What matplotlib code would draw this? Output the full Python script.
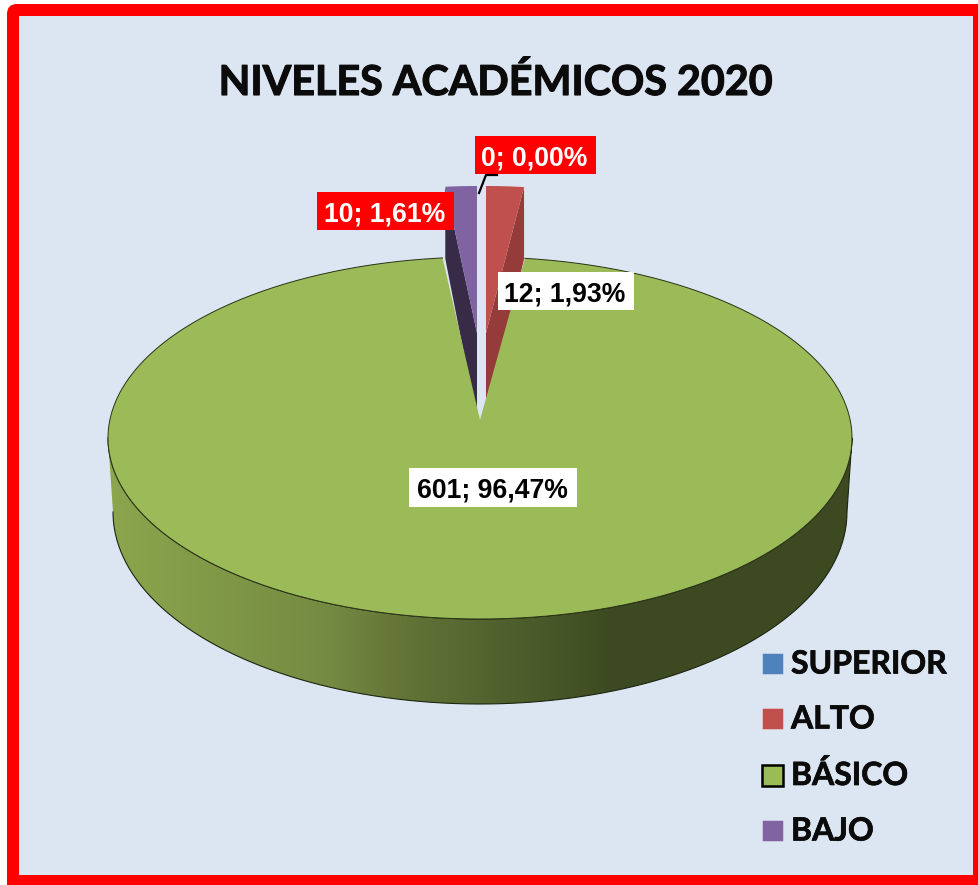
import numpy as np
import matplotlib
matplotlib.use("Agg")
import matplotlib.pyplot as plt
import matplotlib.patheffects as pe
from matplotlib.colors import LinearSegmentedColormap
from matplotlib.patches import FancyBboxPatch, Polygon, Rectangle

# chart data
categories = ["SUPERIOR", "ALTO", "BÁSICO", "BAJO"]
counts = [0, 12, 601, 10]
percent_labels = ["0,00%", "1,93%", "96,47%", "1,61%"]
colors = ["#4f81bd", "#c0504d", "#9bbb59", "#8064a2"]

W, H = 979, 885
BG = "#dce6f2"


def arc(cx, cy, rx, ry, a0, a1, n=200):
    # angles in degrees, clockwise from 12 o'clock, like a pie
    t = np.radians(np.linspace(a0, a1, n))
    return np.column_stack([cx + rx * np.sin(t), cy - ry * np.cos(t)])


fig = plt.figure(figsize=(W / 100, H / 100), dpi=100, facecolor="white")
ax = fig.add_axes([0, 0, 1, 1])
ax.set_xlim(0, W)
ax.set_ylim(H, 0)
ax.axis("off")

# red frame (rounded corner shows at top left) and panel
ax.add_patch(FancyBboxPatch((15, 12), 1000, 900, boxstyle="round,pad=8,rounding_size=10",
                            facecolor="#ff0000", edgecolor="none", zorder=0))
ax.add_patch(Rectangle((19, 16), 954, 859, facecolor=BG, edgecolor="none", zorder=0.5))

# slice angles from the values
total = sum(counts)
edges = np.cumsum([0] + counts) / total * 360
alto = (edges[1], edges[2])
basico = (edges[2], edges[3])
bajo = (edges[3], edges[4])


def exploded(a0, a1, px, outer, light, dark):
    # small exploded slice: dark side runs down behind the green top
    r_x, r_y, depth, top_y = 315, 147, 72, 333
    rim = arc(px, top_y, r_x, r_y, a0, a1, 20)
    tip = [px, top_y]
    side = np.array([tip, rim[outer], rim[outer] + [0, depth], [px, 420]])
    ax.add_patch(Polygon(side, closed=True, facecolor=dark, edgecolor="none", zorder=1))
    ax.add_patch(Polygon(np.vstack([[tip], rim]), closed=True, facecolor=light, edgecolor="none", zorder=6))


exploded(alto[0], alto[1], 486, -1, colors[1], "#953c3a")
exploded(bajo[0], bajo[1], 477, 0, colors[3], "#372b48")

# green slice: side wall first, then the top
cx, cy, rx, ry = 480, 438, 372, 181
bx, by, brx, bry = 480, 512, 367, 192
wall = np.vstack([arc(cx, cy, rx, ry, 270, 90), arc(bx, by, brx, bry, 90, 270)])
wall_patch = Polygon(wall, closed=True, facecolor="none", edgecolor="none", zorder=2)
ax.add_patch(wall_patch)
cmap = LinearSegmentedColormap.from_list(
    "wall",
    [(0, "#8ba64d"), (0.3, "#748a42"), (0.38, "#667738"), (0.5, "#546530"), (0.68, "#3d4a21"), (1, "#3e4b22")],
)
im = ax.imshow(np.linspace(0, 1, 512)[None, :], cmap=cmap, extent=(108, 852, 710, 430),
               aspect="auto", zorder=2)
im.set_clip_path(wall_patch)
ax.set_xlim(0, W)
ax.set_ylim(H, 0)
ax.plot(wall[:, 0], wall[:, 1], color="#1e2410", lw=0.8, zorder=3)

apex = (480, 420)
rim_top = arc(cx, cy, rx, ry, basico[0], basico[1], 500)
ax.add_patch(Polygon(np.vstack([[apex], rim_top]), closed=True, facecolor=colors[2], edgecolor="none", zorder=4))
ax.plot(rim_top[:, 0], rim_top[:, 1], color="#2a3216", lw=0.7, zorder=4)

# leader line for the zero slice
ax.plot([479, 486, 497], [193, 175, 175], color="black", lw=1.6, zorder=9)

# title
ax.text(496, 95, "NIVELES ACADÉMICOS 2020", family="Lato", fontweight="bold", fontsize=29.7,
        ha="center", va="baseline", color="#0b0b0b", zorder=10,
        path_effects=[pe.withStroke(linewidth=0.8, foreground="#0b0b0b")])

# data labels
label_font = dict(family="Liberation Sans", fontweight="bold", fontsize=19.2, ha="center",
                  va="center_baseline", zorder=9)
label_pos = [(535.5, 155, 121, 38), (385.5, 211, 137, 38), (566, 291, 136, 38), (493, 487, 168, 39)]
label_order = [0, 3, 1, 2]
for i, (x, y, w, h) in zip(label_order, label_pos):
    text = f"{counts[i]}; {percent_labels[i]}"
    red = i in (0, 3)
    ax.add_patch(Rectangle((x - w / 2, y - h / 2), w, h, facecolor="#ff0000" if red else "white",
                           edgecolor="none", zorder=8))
    ax.text(x - 1, y + 1, text, color="white" if red else "black", **label_font)

# legend
legend_y = [663.5, 718.5, 775, 830.5]
for name, color, y in zip(categories, colors, legend_y):
    edge = "black" if name == "BÁSICO" else "#ffffff80"
    lw = 1.8 if name == "BÁSICO" else 0.5
    ax.add_patch(Rectangle((762, y - 10.5), 21, 21, facecolor=color, edgecolor=edge, linewidth=lw, zorder=8))
    ax.text(791, y + 10, name, family="Lato", fontweight="bold", fontsize=23, va="baseline", color="#0b0b0b",
            zorder=9, path_effects=[pe.withStroke(linewidth=0.5, foreground="#0b0b0b")])

fig.savefig("out.png", dpi=100, facecolor=fig.get_facecolor())
